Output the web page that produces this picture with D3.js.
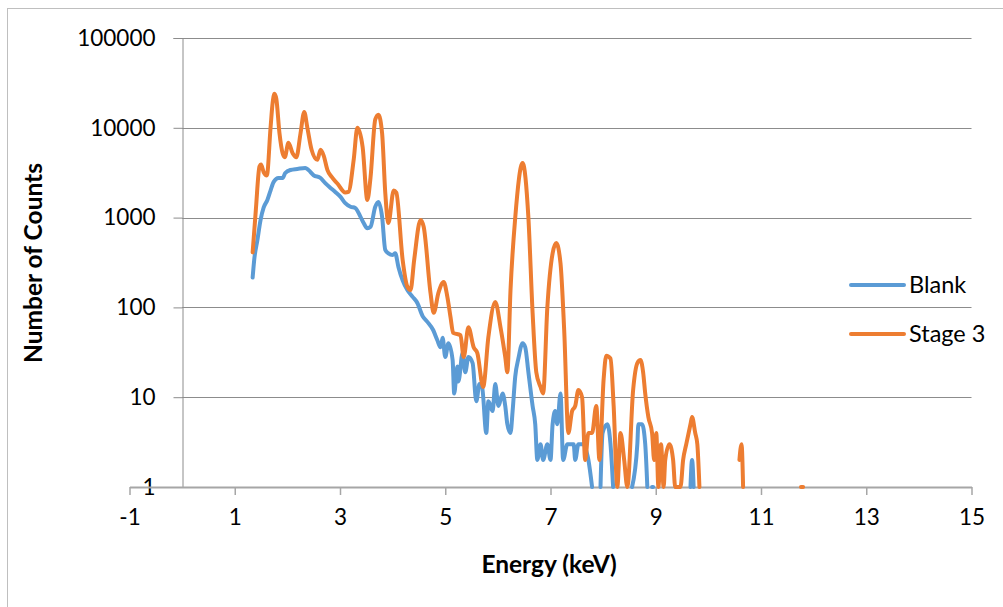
<!DOCTYPE html>
<html>
<head>
<meta charset="utf-8">
<script src="https://cdn.jsdelivr.net/npm/d3@7"></script>
<style>
  body { margin: 0; background: #fff; }
  text { font-family: Lato, "Open Sans", sans-serif; fill: #000; }
</style>
</head>
<body>
<div id="chart"></div>
<script>
// Values (energy in keV, counts). null = zero counts (gap on log axis)
var blankEnergy = [1.34,1.37,1.43,1.49,1.55,1.62,1.68,1.74,1.83,1.91,1.96,2.06,2.19,2.34,2.40,2.50,2.63,2.72,2.82,2.91,
  3.01,3.10,3.20,3.29,3.39,3.45,3.52,3.58,3.67,3.73,3.80,3.86,3.92,4.00,4.05,4.11,4.19,4.28,4.38,4.47,
  4.57,4.66,4.77,4.85,4.91,4.95,5.00,5.06,5.14,5.17,5.23,5.25,5.33,5.38,5.44,5.52,5.59,5.65,5.70,5.78,
  5.82,5.90,5.95,6.01,6.09,6.14,6.18,6.24,6.28,6.33,6.39,6.47,6.52,6.58,6.66,6.71,6.75,6.81,6.86,6.94,
  7.00,7.04,7.09,7.13,7.19,7.24,7.32,7.44,7.47,7.53,7.62,7.72,7.79,7.87,7.95,7.99,8.08,8.14,8.19,8.37,
  8.55,8.65,8.67,8.74,8.80,8.84,8.89,8.93,8.95,9.30,9.66,9.69,9.72];
var blankCounts = [215,340,560,940,1300,1570,2000,2500,2760,2760,3140,3390,3480,3570,3390,2960,2760,2420,2140,1930,
  1700,1450,1320,1280,1020,870,760,790,1320,1490,1020,436,400,383,400,282,200,156,131,112,
  80,69,56,43,36,46,28,40,26,11,22,15,31,19,28,24,9,14,13,4,
  9,7,14,8,11,8,5,4,7,17,27,40,36,19,8,5,2,3,2,3,
  2,5,7,5,11,2,3,3,2,3,3,2,1,null,1,4,5,3,1,null,
  1,3,5,5,3,1,null,1,1,null,1,2,1];

var stageEnergy = [1.34,1.40,1.47,1.50,1.55,1.61,1.68,1.72,1.755,1.79,1.85,1.91,1.95,2.02,2.10,2.17,2.25,2.32,2.38,2.46,
  2.57,2.63,2.69,2.76,2.85,2.95,3.10,3.16,3.26,3.33,3.43,3.52,3.58,3.67,3.73,3.80,3.86,3.92,4.02,4.07,
  4.19,4.28,4.34,4.41,4.53,4.59,4.72,4.78,4.87,4.97,5.04,5.10,5.15,5.29,5.35,5.44,5.54,5.61,5.72,5.82,
  5.95,6.05,6.14,6.18,6.24,6.33,6.47,6.58,6.66,6.73,6.81,6.86,6.94,7.04,7.11,7.19,7.26,7.34,7.41,7.47,
  7.53,7.60,7.66,7.72,7.79,7.87,7.93,8.01,8.06,8.14,8.20,8.27,8.33,8.40,8.46,8.57,8.65,8.71,8.76,8.80,
  8.86,8.93,8.97,9.01,9.05,9.10,9.15,9.18,9.26,9.33,9.37,9.47,9.52,9.58,9.66,9.69,9.75,9.79,9.83,10.20,
  10.59,10.63,10.66,11.20,11.76,11.80];
var stageCounts = [410,1200,3700,3900,3200,2950,10000,19000,24000,21000,8700,5200,4700,6800,5200,4700,8700,15000,10000,5700,
  4400,5700,4900,3400,2800,2400,1900,1930,4400,10000,6100,1570,2800,12400,14000,8700,1900,870,2000,1900,
  340,170,156,340,940,790,145,87,145,192,131,78,52,49,28,60,36,31,13,47,
  115,60,28,19,156,1000,4060,1000,87,19,13,11,100,400,520,310,56,4,7,8,
  12,10,2,4,4,8,2,16,29,27,8,1,4,2,1,12,24,26,19,11,
  6,4,2,4,1,3,1,2,3,2,1,1,2,3,5,6,4,3,1,null,
  2,3,1,null,1,1];

var seriesNames = ["Blank", "Stage 3"];
var seriesColors = ["#5B9BD5", "#ED7D31"];
var xTicks = [-1, 1, 3, 5, 7, 9, 11, 13, 15];
var yTicks = [1, 10, 100, 1000, 10000, 100000];

var width = 1003, height = 607;
var svg = d3.select("#chart").append("svg")
  .attr("width", width)
  .attr("height", height);

// outer chart border
svg.append("rect")
  .attr("x", 7.5).attr("y", 8.5)
  .attr("width", 1000).attr("height", 610)
  .attr("fill", "#fff")
  .attr("stroke", "#bfbfbf");

var x = d3.scaleLinear().domain([-1, 15]).range([129.5, 971.5]);
var y = d3.scaleLog().domain([1, 100000]).range([487, 38]);

// gridlines
svg.append("g").selectAll("line")
  .data(yTicks.slice(1))
  .enter().append("line")
  .attr("x1", x(0)).attr("x2", x(15))
  .attr("y1", function(d) { return Math.round(y(d)) + 0.5; })
  .attr("y2", function(d) { return Math.round(y(d)) + 0.5; })
  .attr("stroke", "#8c8c8c")
  .attr("stroke-width", 1.2);

// y axis (sits at x = 0)
var yAxis = d3.axisLeft(y).tickValues(yTicks).tickFormat(d3.format("d")).tickSize(9).tickPadding(18);
var gy = svg.append("g").attr("transform", "translate(" + (Math.round(x(0)) + 0.5) + ",0)").call(yAxis);
gy.select(".domain").attr("stroke", "#8c8c8c");
gy.selectAll(".tick line").attr("stroke", "#8c8c8c");
gy.selectAll("text").style("font-size", "22.5px").attr("fill", "#000");

// x axis (sits at y = 1)
var xAxis = d3.axisBottom(x).tickValues(xTicks).tickFormat(d3.format("d")).tickSize(8).tickPadding(14).tickSizeOuter(0);
var gx = svg.append("g").attr("transform", "translate(0," + y(1) + ")").call(xAxis);
gx.select(".domain").attr("stroke", "#a6a6a6").attr("stroke-width", 2);
gx.selectAll(".tick line").attr("stroke", "#a6a6a6").attr("stroke-width", 1.5);
gx.selectAll("text").style("font-size", "22.5px").attr("fill", "#000");
gx.selectAll(".tick text").text(function(d) { return d < 0 ? "-" + Math.abs(d) : d; });

// series
var series = [
  { name: seriesNames[0], color: seriesColors[0], pts: d3.zip(blankEnergy, blankCounts) },
  { name: seriesNames[1], color: seriesColors[1], pts: d3.zip(stageEnergy, stageCounts) }
];

var line = d3.line()
  .defined(function(d) { return d[1] != null; })
  .x(function(d) { return x(d[0]); })
  .y(function(d) { return y(d[1]); })
  .curve(d3.curveMonotoneX);

svg.append("g").selectAll("path")
  .data(series)
  .enter().append("path")
  .attr("d", function(s) { return line(s.pts); })
  .attr("fill", "none")
  .attr("stroke", function(s) { return s.color; })
  .attr("stroke-width", 4)
  .attr("stroke-linejoin", "round")
  .attr("stroke-linecap", "round");

// axis titles
svg.append("text")
  .attr("x", 549).attr("y", 573)
  .attr("text-anchor", "middle")
  .style("font-size", "24.5px").style("font-weight", "bold")
  .text("Energy (keV)");

svg.append("text")
  .attr("transform", "translate(42,263) rotate(-90)")
  .attr("text-anchor", "middle")
  .style("font-size", "24.5px").style("font-weight", "bold")
  .text("Number of Counts");

// legend
var legend = svg.append("g").selectAll("g")
  .data(series)
  .enter().append("g")
  .attr("transform", function(d, i) { return "translate(851," + (285 + i * 49) + ")"; });
legend.append("line")
  .attr("x1", 0).attr("x2", 53)
  .attr("stroke", function(d) { return d.color; })
  .attr("stroke-width", 4)
  .attr("stroke-linecap", "round");
legend.append("text")
  .attr("x", 58).attr("dy", "0.36em")
  .style("font-size", "23.5px")
  .text(function(d) { return d.name; });
</script>
</body>
</html>
